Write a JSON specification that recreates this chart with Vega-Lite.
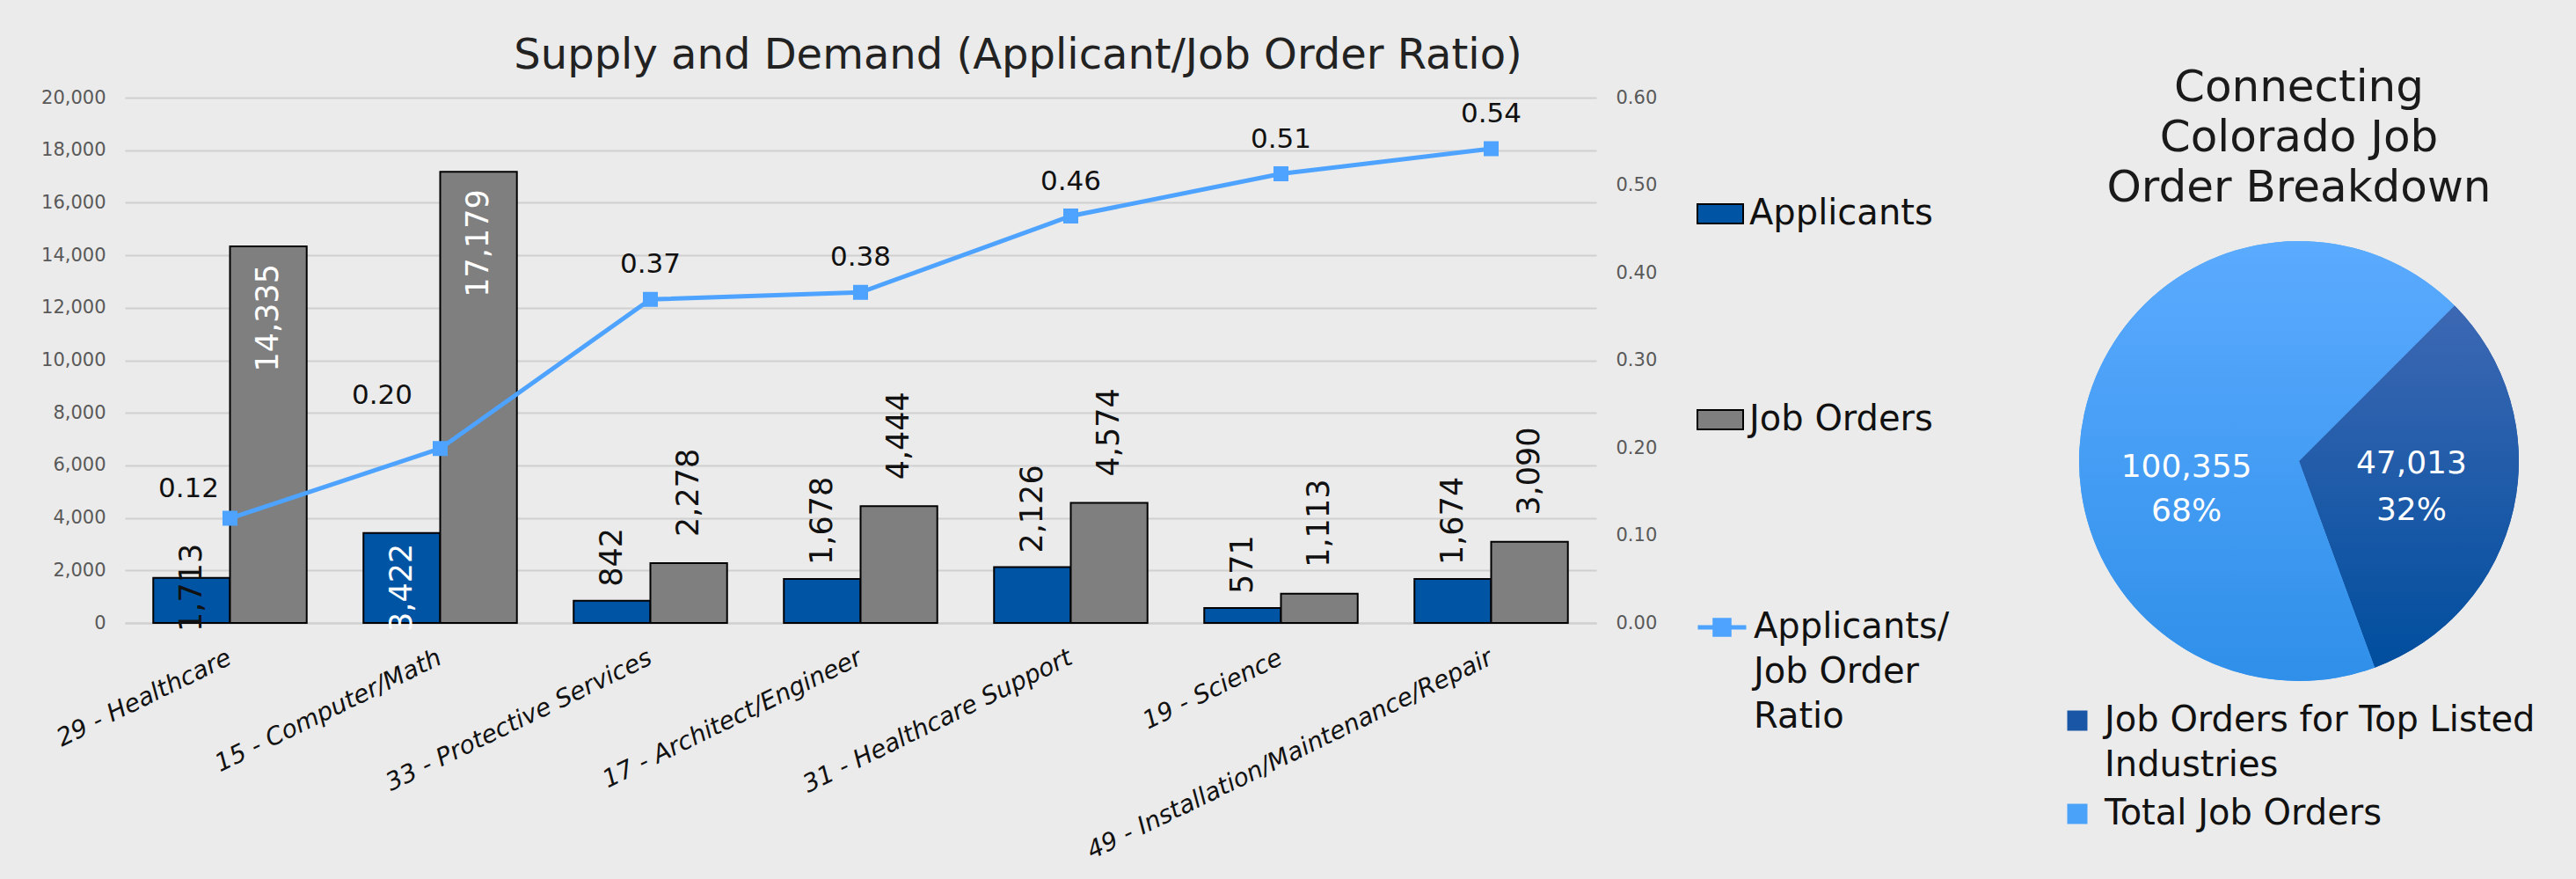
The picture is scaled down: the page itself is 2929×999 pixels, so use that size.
{
  "$schema": "https://vega.github.io/schema/vega-lite/v6.json",
  "background": "#ebebeb",
  "padding": {"left": 46, "top": 40, "right": 30, "bottom": 60},
  "bounds": "flush",
  "spacing": 485,
  "config": {
    "font": "DejaVu Sans",
    "view": {"stroke": null},
    "style": {"guide-label": {"lineHeight": 51}}
  },
  "datasets": {
    "industries": [
      {"cat": "29 - Healthcare", "Applicants": 1713, "Job Orders": 14335, "Ratio": 0.1195},
      {"cat": "15 - Computer/Math", "Applicants": 3422, "Job Orders": 17179, "Ratio": 0.1992},
      {"cat": "33 - Protective Services", "Applicants": 842, "Job Orders": 2278, "Ratio": 0.3696},
      {"cat": "17 - Architect/Engineer", "Applicants": 1678, "Job Orders": 4444, "Ratio": 0.3776},
      {"cat": "31 - Healthcare Support", "Applicants": 2126, "Job Orders": 4574, "Ratio": 0.4648},
      {"cat": "19 - Science", "Applicants": 571, "Job Orders": 1113, "Ratio": 0.5130},
      {"cat": "49 - Installation/Maintenance/Repair", "Applicants": 1674, "Job Orders": 3090, "Ratio": 0.5417}
    ],
    "pie": [
      {"slice": "Job Orders for Top Listed Industries", "value": 47013, "pct": "32%"},
      {"slice": "Total Job Orders", "value": 100355, "pct": "68%"}
    ]
  },
  "hconcat": [
    {
      "width": 1673,
      "height": 597,
      "data": {"name": "industries"},
      "title": {"text": "Supply and Demand (Applicant/Job Order Ratio)", "fontSize": 48, "fontWeight": "normal", "color": "#222222", "anchor": "middle", "dx": 179, "offset": 12},
      "encoding": {
        "x": {
          "field": "cat", "type": "nominal", "sort": null,
          "scale": {"paddingInner": 0.27, "paddingOuter": 0.135},
          "axis": {"title": null, "labelAngle": -26, "labelAlign": "right", "labelBaseline": "middle", "labelFontStyle": "italic", "labelFontSize": 28, "labelColor": "#111111", "labelPadding": 38, "labelLimit": 1000, "ticks": false, "domain": true, "domainColor": "#d0d0d0", "domainWidth": 2}
        }
      },
      "layer": [
        {
          "transform": [{"fold": ["Applicants", "Job Orders"], "as": ["series", "value"]}],
          "encoding": {
            "xOffset": {"field": "series", "type": "nominal", "sort": ["Applicants", "Job Orders"], "scale": {"paddingInner": 0, "paddingOuter": 0}},
            "y": {
              "field": "value", "type": "quantitative",
              "scale": {"domain": [0, 20000], "nice": false},
              "axis": {"title": null, "orient": "left", "values": [0, 2000, 4000, 6000, 8000, 10000, 12000, 14000, 16000, 18000, 20000], "format": ",.0f", "labelFontSize": 21, "labelColor": "#595959", "labelPadding": 22, "ticks": false, "domain": false, "grid": true, "gridColor": "#d0d0d0", "gridWidth": 2}
            }
          },
          "layer": [
            {
              "mark": {"type": "bar", "stroke": "black", "strokeWidth": 2},
              "encoding": {
                "fill": {
                  "field": "series", "type": "nominal",
                  "scale": {"domain": ["Applicants", "Job Orders"], "range": ["#0054a4", "#7f7f7f"]},
                  "legend": {"orient": "none", "legendX": 1787, "legendY": 105, "title": null, "padding": 0, "symbolType": "M-1,-0.423H1V0.423H-1Z", "symbolSize": 2704, "symbolStrokeColor": "black", "symbolStrokeWidth": 2, "labelFontSize": 40, "labelColor": "#111111", "labelOffset": 6, "labelLimit": 1000, "rowPadding": 187}
                }
              }
            },
            {
              "transform": [{"filter": "datum.series == 'Job Orders' && datum.value > 10000"}],
              "mark": {"type": "text", "angle": 270, "align": "right", "baseline": "middle", "dx": -20, "fontSize": 35, "fill": "white"},
              "encoding": {"text": {"field": "value", "type": "quantitative", "format": ","}}
            },
            {
              "transform": [{"filter": "datum.series == 'Job Orders' && datum.value <= 10000"}],
              "mark": {"type": "text", "angle": 270, "align": "left", "baseline": "middle", "dx": 30, "fontSize": 35, "fill": "#111111"},
              "encoding": {"text": {"field": "value", "type": "quantitative", "format": ","}}
            },
            {
              "transform": [{"filter": "datum.series == 'Applicants' && datum['Job Orders'] <= 10000"}],
              "mark": {"type": "text", "angle": 270, "align": "left", "baseline": "middle", "dx": 16, "fontSize": 35, "fill": "#111111"},
              "encoding": {"text": {"field": "value", "type": "quantitative", "format": ","}}
            },
            {
              "transform": [{"filter": "datum.series == 'Applicants' && datum['Job Orders'] > 10000"}],
              "mark": {"type": "text", "angle": 270, "align": "left", "baseline": "middle", "dx": -10, "fontSize": 35},
              "encoding": {
                "y": {
                  "datum": 0, "type": "quantitative",
                  "scale": {"domain": [0, 20000], "nice": false},
                  "axis": {"title": null, "orient": "left", "values": [0, 2000, 4000, 6000, 8000, 10000, 12000, 14000, 16000, 18000, 20000], "format": ",.0f", "labelFontSize": 21, "labelColor": "#595959", "labelPadding": 22, "ticks": false, "domain": false, "grid": true, "gridColor": "#d0d0d0", "gridWidth": 2}
                },
                "text": {"field": "value", "type": "quantitative", "format": ","},
                "fill": {"condition": {"test": "datum.value > 3000", "value": "white"}, "value": "#111111"}
              }
            }
          ]
        },
        {
          "encoding": {
            "y": {
              "field": "Ratio", "type": "quantitative",
              "scale": {"domain": [0, 0.6], "nice": false},
              "axis": {"title": null, "orient": "right", "values": [0, 0.1, 0.2, 0.3, 0.4, 0.5, 0.6], "format": ".2f", "labelFontSize": 21, "labelColor": "#595959", "labelPadding": 22, "ticks": false, "domain": false, "grid": false}
            }
          },
          "layer": [
            {
              "mark": {"type": "line", "strokeWidth": 5, "point": {"shape": "square", "size": 225, "filled": true, "fill": "#4da3ff", "stroke": null}},
              "encoding": {
                "stroke": {
                  "datum": "Applicants/Job Order Ratio",
                  "scale": {"range": ["#4da3ff"]},
                  "legend": {"orient": "none", "legendX": 1786, "legendY": 572, "title": null, "padding": 0, "symbolType": "M-1,0H1M-0.3,-0.3H0.3V0.3H-0.3Z", "symbolSize": 3025, "symbolStrokeWidth": 5, "symbolFillColor": "#4da3ff", "labelFontSize": 40, "labelColor": "#111111", "labelOffset": 6, "labelLimit": 1000, "labelExpr": "['Applicants/', 'Job Order', 'Ratio']"}
                }
              }
            },
            {
              "transform": [{"filter": "datum.cat != '29 - Healthcare' && datum.cat != '15 - Computer/Math'"}],
              "mark": {"type": "text", "align": "center", "baseline": "middle", "dy": -39, "fontSize": 31, "fill": "#111111"},
              "encoding": {"text": {"field": "Ratio", "type": "quantitative", "format": ".2f"}}
            },
            {
              "transform": [{"filter": "datum.cat == '29 - Healthcare'"}],
              "mark": {"type": "text", "align": "center", "baseline": "middle", "dx": -47, "dy": -33, "fontSize": 31, "fill": "#111111"},
              "encoding": {"text": {"field": "Ratio", "type": "quantitative", "format": ".2f"}}
            },
            {
              "transform": [{"filter": "datum.cat == '15 - Computer/Math'"}],
              "mark": {"type": "text", "align": "center", "baseline": "middle", "dx": -66, "dy": -60, "fontSize": 31, "fill": "#111111"},
              "encoding": {"text": {"field": "Ratio", "type": "quantitative", "format": ".2f"}}
            }
          ]
        }
      ],
      "resolve": {"scale": {"y": "independent"}}
    },
    {
      "width": 628,
      "height": 826,
      "data": {"name": "pie"},
      "title": {"text": ["Connecting", "Colorado Job", "Order Breakdown"], "fontSize": 50, "lineHeight": 57, "fontWeight": "normal", "color": "#1a1a1a", "anchor": "middle", "offset": 0, "dy": 128},
      "encoding": {
        "theta": {"field": "value", "type": "quantitative", "stack": true, "scale": {"range": [0.7854, 7.0686]}}
      },
      "layer": [
        {
          "mark": {"type": "arc", "outerRadius": 250},
          "encoding": {
            "color": {
              "field": "slice", "type": "nominal",
              "scale": {"domain": ["Job Orders for Top Listed Industries", "Total Job Orders"], "range": ["#1a56a6", "#4aa2f9"]},
              "legend": {"orient": "none", "legendX": 2200, "legendY": 688, "title": null, "padding": 0, "symbolType": "square", "symbolSize": 529, "labelFontSize": 40, "labelColor": "#111111", "labelOffset": 11, "labelLimit": 1000, "rowPadding": 15, "labelExpr": "datum.label == 'Job Orders for Top Listed Industries' ? ['Job Orders for Top Listed', 'Industries'] : datum.label"}
            }
          }
        },
        {
          "mark": {"type": "arc", "outerRadius": 250},
          "encoding": {
            "detail": {"field": "slice"},
            "fill": {
              "condition": {"test": "datum.slice == 'Total Job Orders'", "value": {"gradient": "linear", "x1": 0, "y1": 0, "x2": 0, "y2": 1, "stops": [{"offset": 0, "color": "#5babff"}, {"offset": 1, "color": "#2f8fe9"}]}},
              "value": {"gradient": "linear", "x1": 0, "y1": 0, "x2": 0, "y2": 1, "stops": [{"offset": 0, "color": "#3d68b3"}, {"offset": 1, "color": "#004e9e"}]}
            }
          }
        },
        {
          "mark": {"type": "text", "radius": 131, "fontSize": 36, "fill": "white", "dy": -25},
          "encoding": {
            "detail": {"field": "slice"},
            "text": {"condition": {"test": "datum.slice == 'Job Orders for Top Listed Industries'", "field": "value", "type": "quantitative", "format": ","}, "value": ""}
          }
        },
        {
          "mark": {"type": "text", "radius": 131, "fontSize": 36, "fill": "white", "dy": 28},
          "encoding": {
            "detail": {"field": "slice"},
            "text": {"condition": {"test": "datum.slice == 'Job Orders for Top Listed Industries'", "field": "pct", "type": "nominal"}, "value": ""}
          }
        },
        {
          "mark": {"type": "text", "radius": 131, "fontSize": 36, "fill": "white", "dy": 35},
          "encoding": {
            "detail": {"field": "slice"},
            "text": {"condition": {"test": "datum.slice == 'Total Job Orders'", "field": "value", "type": "quantitative", "format": ","}, "value": ""}
          }
        },
        {
          "mark": {"type": "text", "radius": 131, "fontSize": 36, "fill": "white", "dy": 85},
          "encoding": {
            "detail": {"field": "slice"},
            "text": {"condition": {"test": "datum.slice == 'Total Job Orders'", "field": "pct", "type": "nominal"}, "value": ""}
          }
        }
      ]
    }
  ]
}
